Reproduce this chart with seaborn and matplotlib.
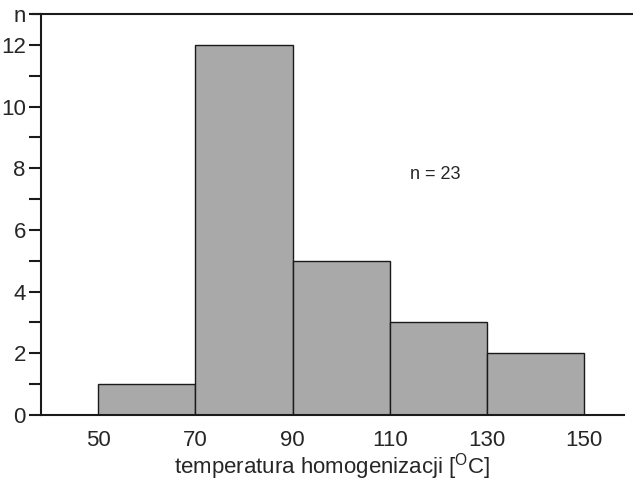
import matplotlib
matplotlib.use('Agg')
import matplotlib.pyplot as plt
import seaborn as sns
import numpy as np

# histogram of homogenization temperatures
bin_edges = [50, 70, 90, 110, 130, 150]
counts = [1, 12, 5, 3, 2]
x_ticks = [50, 70, 90, 110, 130, 150]
y_ticks = [0, 2, 4, 6, 8, 10, 12, 13]
y_labels = ['0', '2', '4', '6', '8', '10', '12', 'n']
n_total = sum(counts)

sns.set_style('white')
plt.rcParams['font.family'] = ['Liberation Sans', 'DejaVu Sans']
plt.rcParams['mathtext.fontset'] = 'custom'
plt.rcParams['mathtext.rm'] = 'Liberation Sans'

fig = plt.figure(figsize=(6.33, 4.84), dpi=100)
ax = fig.add_axes([0.065, 0.1426, 0.921, 0.8284])

mids = [(a + b) / 2 for a, b in zip(bin_edges[:-1], bin_edges[1:])]
sns.histplot(x=mids, weights=counts, bins=bin_edges, ax=ax,
             color='#a9a9a9', alpha=1, edgecolor='#1a1a1a', linewidth=1.0)

ax.set_xlim(38.3, 158.2)
ax.set_ylim(0, 13)
ax.set_xticks(x_ticks)
ax.set_yticks(y_ticks)
ax.set_yticklabels(y_labels)
ax.set_yticks(range(1, 12, 2), minor=True)
ax.tick_params(axis='x', length=0, labelsize=16, pad=11)
ax.tick_params(axis='y', which='both', length=9, width=1.5, direction='out',
               labelsize=16, pad=2, color='#1a1a1a', left=True)

ax.spines['right'].set_visible(False)
ax.spines['top'].set_visible(False)
for s in ['left', 'bottom']:
    ax.spines[s].set_color('#1a1a1a')
    ax.spines[s].set_linewidth(1.5)

# top line drawn across the full width
ax.plot([-0.015, 1.02], [1, 1], transform=ax.transAxes, color='#1a1a1a',
        lw=1.5, clip_on=False)

ax.set_ylabel('')
ax.set_xlabel(r'temperatura homogenizacji [$^{\mathrm{O}}$C]', fontsize=16, labelpad=0)
ax.text(114.2, 7.8, f'n = {n_total}', fontsize=13, va='center', ha='left')

plt.savefig('out.png', dpi=100)
